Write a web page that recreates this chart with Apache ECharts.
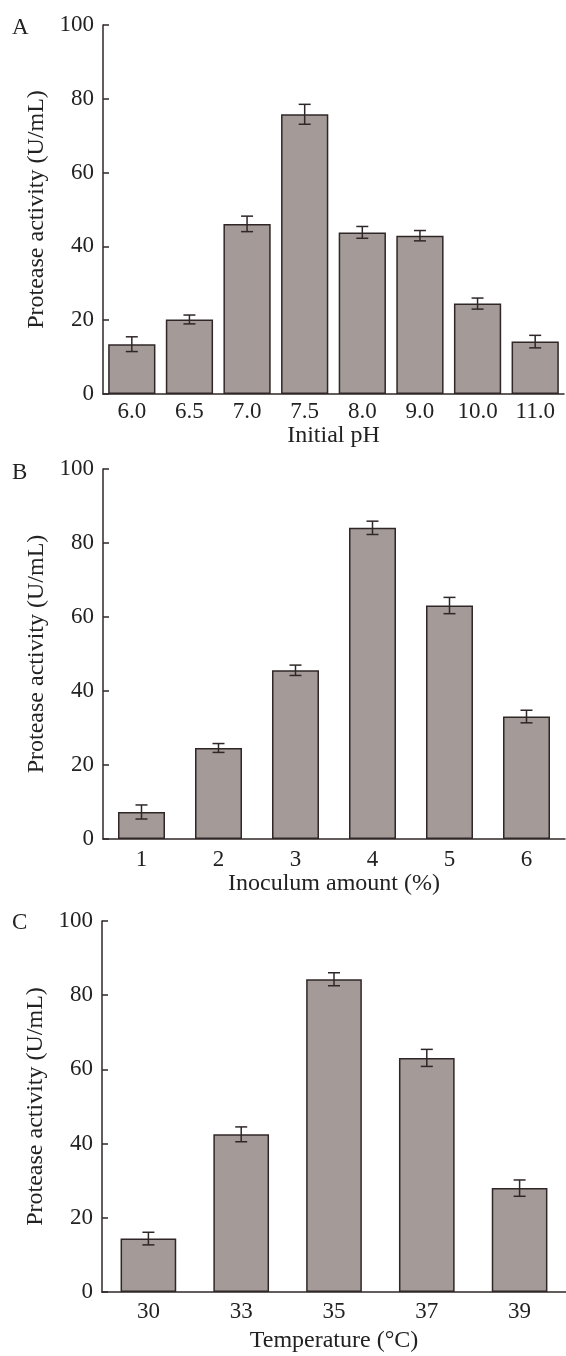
<!DOCTYPE html>
<html>
<head>
<meta charset="utf-8">
<script src="https://cdn.jsdelivr.net/npm/echarts@6/dist/echarts.min.js"></script>
<style>
  html, body { margin: 0; padding: 0; background: #fff; }
  #main { width: 566px; height: 1356px; }
</style>
</head>
<body>
<div id="main"></div>
<script>
// A: initial pH
var phLabels = ['6.0', '6.5', '7.0', '7.5', '8.0', '9.0', '10.0', '11.0'];
var phValues = [13.5, 20.2, 46.1, 75.8, 43.8, 42.9, 24.5, 14.2];
var phErrors = [2.0, 1.2, 2.1, 2.7, 1.6, 1.4, 1.5, 1.7];
// B: inoculum amount
var inocLabels = ['1', '2', '3', '4', '5', '6'];
var inocValues = [7.3, 24.6, 45.6, 84.1, 63.1, 33.1];
var inocErrors = [1.9, 1.2, 1.4, 1.8, 2.2, 1.7];
// C: temperature
var tempLabels = ['30', '33', '35', '37', '39'];
var tempValues = [14.4, 42.5, 84.3, 63.1, 28.0];
var tempErrors = [1.7, 2.0, 1.75, 2.3, 2.2];

var yMin = 0;
var yMax = 100;
var yStep = 20;

var font = '"Liberation Serif", "Times New Roman", serif';
var ink = '#2f2727';
var barFill = '#a49b98';

var chart = echarts.init(document.getElementById('main'));

// error bar drawing
var renderErr = function (params, api) {
    var x = api.value(0);
    var y = api.value(1);
    var e = api.value(2);
    var hi = api.coord([x, y + e]);
    var lo = api.coord([x, y - e]);
    var half = 6;
    var style = { stroke: ink, lineWidth: 1.5 };
    return {
        type: 'group',
        children: [
            { type: 'line', shape: { x1: hi[0], y1: hi[1], x2: lo[0], y2: lo[1] }, style: style },
            { type: 'line', shape: { x1: hi[0] - half, y1: hi[1], x2: hi[0] + half, y2: hi[1] }, style: style },
            { type: 'line', shape: { x1: lo[0] - half, y1: lo[1], x2: lo[0] + half, y2: lo[1] }, style: style }
        ]
    };
};

var errData = function (values, errors) {
    var out = [];
    for (var i = 0; i < values.length; i++) {
        out.push([i, values[i], errors[i]]);
    }
    return out;
};

var makeX = function (idx, labels, name, labelMargin, nameGap) {
    return {
        type: 'category',
        gridIndex: idx,
        data: labels,
        name: name,
        nameLocation: 'middle',
        nameGap: nameGap,
        nameTextStyle: { fontFamily: font, fontSize: 24, color: '#222' },
        axisLine: { lineStyle: { color: ink, width: 1.5 } },
        axisTick: { inside: true, alignWithLabel: true, length: 6, lineStyle: { color: ink, width: 1.5 } },
        axisLabel: { fontFamily: font, fontSize: 23, color: '#222', margin: labelMargin },
        splitLine: { show: false }
    };
};

var makeY = function (idx) {
    return {
        type: 'value',
        gridIndex: idx,
        min: yMin,
        max: yMax,
        interval: yStep,
        name: 'Protease activity (U/mL)',
        nameLocation: 'middle',
        nameGap: 53,
        nameTextStyle: { fontFamily: font, fontSize: 24, color: '#222' },
        axisLine: { show: true, lineStyle: { color: ink, width: 1.5 } },
        axisTick: { show: true, inside: true, length: 6, lineStyle: { color: ink, width: 1.5 } },
        axisLabel: { fontFamily: font, fontSize: 23, color: '#222', margin: 9 },
        splitLine: { show: false }
    };
};

var makeBar = function (idx, values, gap) {
    return {
        type: 'bar',
        xAxisIndex: idx,
        yAxisIndex: idx,
        data: values,
        barCategoryGap: gap,
        itemStyle: { color: barFill, borderColor: ink, borderWidth: 1.5 },
        animation: false
    };
};

var makeErr = function (idx, values, errors) {
    return {
        type: 'custom',
        xAxisIndex: idx,
        yAxisIndex: idx,
        data: errData(values, errors),
        encode: { x: 0, y: 1 },
        renderItem: renderErr,
        z: 5,
        animation: false
    };
};

var letter = function (txt, y) {
    return {
        type: 'text',
        left: 12,
        top: y,
        style: { text: txt, font: '23px ' + font, fill: '#222' }
    };
};

var option = {
    backgroundColor: '#fff',
    animation: false,
    graphic: [letter('A', 16), letter('B', 461), letter('C', 911)],
    grid: [
        { left: 103, top: 25, width: 461, height: 369 },
        { left: 103, top: 469, width: 462, height: 370 },
        { left: 102, top: 921, width: 467, height: 371 }
    ],
    xAxis: [
        makeX(0, phLabels, 'Initial pH', 6, 28),
        makeX(1, inocLabels, 'Inoculum amount (%)', 9, 26),
        makeX(2, tempLabels, 'Temperature (\u00b0C)', 8, 37)
    ],
    yAxis: [makeY(0), makeY(1), makeY(2)],
    series: [
        makeBar(0, phValues, '18%'),
        makeErr(0, phValues, phErrors),
        makeBar(1, inocValues, '39%'),
        makeErr(1, inocValues, inocErrors),
        makeBar(2, tempValues, '40%'),
        makeErr(2, tempValues, tempErrors)
    ]
};

chart.setOption(option);
</script>
</body>
</html>
